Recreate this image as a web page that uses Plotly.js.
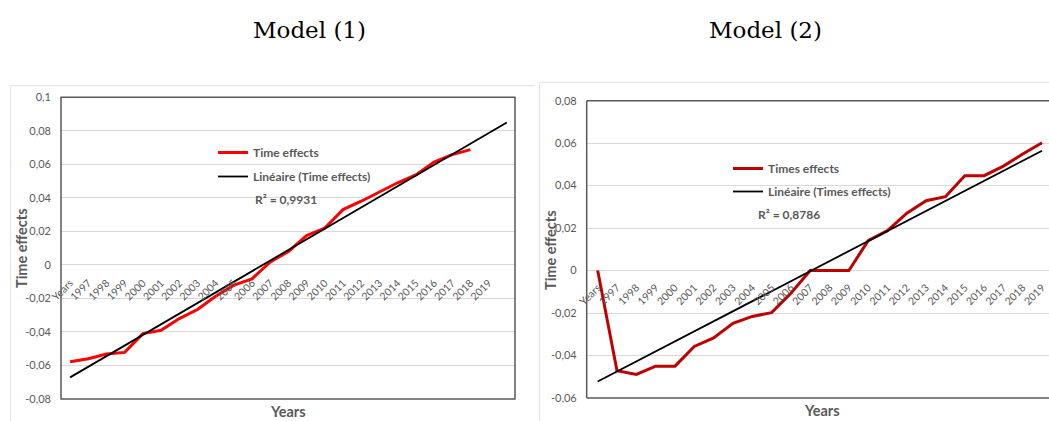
<!DOCTYPE html>
<html>
<head>
<meta charset="utf-8">
<script src="https://cdn.plot.ly/plotly-3.0.1.min.js"></script>
<style>html,body{margin:0;padding:0;background:#fff;}#chart{width:1049px;height:421px;}</style>
</head>
<body>
<div id="chart"></div>
<script>
// ---------- data ----------
var categories = ["Years","1997","1998","1999","2000","2001","2002","2003","2004","2005","2006","2007","2008","2009","2010","2011","2012","2013","2014","2015","2016","2017","2018","2019"];
var model1Effects = [-0.0578,-0.0560,-0.0532,-0.0522,-0.0410,-0.0390,-0.0320,-0.0266,-0.0187,-0.0121,-0.0083,0.0018,0.0080,0.0175,0.0220,0.0330,0.0380,0.0437,0.0490,0.0537,0.0614,0.0658,0.0688];
var model2Effects = [0.0000,-0.0472,-0.0489,-0.0450,-0.0450,-0.0357,-0.0317,-0.0248,-0.0216,-0.0198,-0.0107,0.0000,0.0000,0.0000,0.0141,0.0188,0.0270,0.0329,0.0348,0.0447,0.0447,0.0492,0.0549,0.0602];
var trend1X = [0, 24];
var trend1Y = [-0.0671, 0.0850];
var trend2X = [0, 23];
var trend2Y = [-0.0522, 0.0564];
var y1TickVals = [0.1,0.08,0.06,0.04,0.02,0,-0.02,-0.04,-0.06,-0.08];
var y1TickText = ["0,1","0,08","0,06","0,04","0,02","0","-0,02","-0,04","-0,06","-0,08"];
var y2TickVals = [0.08,0.06,0.04,0.02,0,-0.02,-0.04,-0.06];
var y2TickText = ["0,08","0,06","0,04","0,02","0","-0,02","-0,04","-0,06"];
var r2Model1 = "R² = 0,9931";
var r2Model2 = "R² = 0,8786";

// ---------- layout helpers ----------
var W = 1049, H = 421;
function px(x){ return x / W; }
function py(y){ return 1 - y / H; }
var catIdx = categories.map(function(c,i){ return i; });

var sans = "Lato, 'Liberation Sans', sans-serif";
var tickFont = {family: sans, size: 10.5, color: "#595959"};
var yTickFont = {family: sans, size: 11, color: "#595959"};
var gridCol = "#D9D9D9";

var traces = [
  {x: catIdx.slice(0, model1Effects.length), y: model1Effects, xaxis: "x", yaxis: "y", mode: "lines",
   name: "Time effects", legend: "legend", legendgroup: "a",
   line: {color: "#FF0000", width: 3}},
  {x: trend1X, y: trend1Y, xaxis: "x", yaxis: "y", mode: "lines",
   name: "Linéaire (Time effects)", legend: "legend", legendgroup: "b",
   line: {color: "#000000", width: 1.8}},
  {x: catIdx.slice(0, model2Effects.length), y: model2Effects, xaxis: "x2", yaxis: "y2", mode: "lines",
   name: "Times effects", legend: "legend2", legendgroup: "c",
   line: {color: "#C00000", width: 3}},
  {x: trend2X, y: trend2Y, xaxis: "x2", yaxis: "y2", mode: "lines",
   name: "Linéaire (Times effects)", legend: "legend2", legendgroup: "d",
   line: {color: "#000000", width: 1.8}}
];

var d1x = [px(61), px(515)], d1y = [py(399), py(97.3)];
var d2x = [px(586.7), 1], d2y = [py(398), py(100.7)];
var zero1 = d1y[0] + (0.08/0.18)*(d1y[1]-d1y[0]);
var zero2 = d2y[0] + (0.06/0.14)*(d2y[1]-d2y[0]);

var legendFont = {family: sans, size: 12, color: "#595959", weight: "bold"};

function ann(text, x, y, font, extra){
  var a = {text: text, xref: "paper", yref: "paper", x: px(x), y: py(y), showarrow: false,
           xanchor: "center", yanchor: "middle", font: font};
  if (extra) for (var k in extra) a[k] = extra[k];
  return a;
}
var titleFont = {family: "'DejaVu Serif', serif", size: 23, color: "#000"};
var axTitleFont = {family: sans, size: 14.5, color: "#595959", weight: "bold"};
var r2Font = {family: sans, size: 12, color: "#595959", weight: "bold"};

var layout = {
  width: W, height: H,
  margin: {l: 0, r: 0, t: 0, b: 0},
  paper_bgcolor: "#fff", plot_bgcolor: "#fff",
  showlegend: true,
  xaxis: {domain: d1x, range: [-0.5, 24.45], anchor: "free", position: zero1,
          tickmode: "array", tickvals: catIdx, ticktext: categories, tickangle: -45,
          tickfont: tickFont, showgrid: false, zeroline: false, showline: false, ticks: "",
          ticklabelstandoff: 9, ticklabeloverflow: "allow", fixedrange: true},
  yaxis: {domain: d1y, range: [-0.08, 0.1], anchor: "x",
          tickmode: "array", tickvals: y1TickVals, ticktext: y1TickText, tickfont: yTickFont,
          showgrid: true, gridcolor: gridCol, gridwidth: 1, zeroline: false, showline: false, ticks: "",
          ticklabelstandoff: 9, fixedrange: true},
  xaxis2: {domain: d2x, range: [-0.569, 23.36], anchor: "free", position: zero2,
          tickmode: "array", tickvals: catIdx, ticktext: categories, tickangle: -45,
          tickfont: tickFont, showgrid: false, zeroline: false, showline: false, ticks: "",
          ticklabelstandoff: 8, ticklabeloverflow: "allow", fixedrange: true},
  yaxis2: {domain: d2y, range: [-0.06, 0.08], anchor: "x2",
          tickmode: "array", tickvals: y2TickVals, ticktext: y2TickText, tickfont: yTickFont,
          showgrid: true, gridcolor: gridCol, gridwidth: 1, zeroline: false, showline: false, ticks: "",
          ticklabelstandoff: 9, fixedrange: true},
  legend: {x: px(213), y: py(138), xanchor: "left", yanchor: "top", bgcolor: "rgba(0,0,0,0)",
           font: legendFont, traceorder: "grouped", tracegroupgap: 5, itemwidth: 30},
  legend2: {x: px(728), y: py(154), xanchor: "left", yanchor: "top", bgcolor: "rgba(0,0,0,0)",
           font: legendFont, traceorder: "grouped", tracegroupgap: 4, itemwidth: 30},
  shapes: [
    // outer chart frames
    {type: "line", xref: "paper", yref: "paper", x0: px(10.7), x1: px(535), y0: py(85.7), y1: py(85.7), line: {color: "#E3E3E3", width: 1}},
    {type: "line", xref: "paper", yref: "paper", x0: px(10.7), x1: px(10.7), y0: py(85.7), y1: 0, line: {color: "#E3E3E3", width: 1}},
    {type: "line", xref: "paper", yref: "paper", x0: px(539.5), x1: 1, y0: py(82.3), y1: py(82.3), line: {color: "#E3E3E3", width: 1}},
    {type: "line", xref: "paper", yref: "paper", x0: px(539.5), x1: px(539.5), y0: py(82.3), y1: 0, line: {color: "#E3E3E3", width: 1}},
    // plot area boxes
    {type: "rect", xref: "x domain", yref: "y domain", x0: 0, x1: 1, y0: 0, y1: 1, line: {color: "#595959", width: 1.5}, layer: "above"},
    {type: "line", xref: "x2 domain", yref: "y2 domain", x0: 0, x1: 0, y0: 0, y1: 1, line: {color: "#595959", width: 1.5}, layer: "above"},
    {type: "line", xref: "x2 domain", yref: "y2 domain", x0: 0, x1: 1, y0: 1, y1: 1, line: {color: "#595959", width: 1.5}, layer: "above"},
    {type: "line", xref: "x2 domain", yref: "y2 domain", x0: 0, x1: 1, y0: 0, y1: 0, line: {color: "#595959", width: 1.5}, layer: "above"}
  ],
  annotations: [
    ann("Model (1)", 310, 30, titleFont),
    ann("Model (2)", 765, 30, titleFont),
    ann("Time effects", 22, 248, axTitleFont, {textangle: -90}),
    ann("Time effects", 550, 250, axTitleFont, {textangle: -90}),
    ann("Years", 288, 411, axTitleFont),
    ann("Years", 822, 410, axTitleFont),
    ann(r2Model1, 253, 199, r2Font, {xanchor: "left"}),
    ann(r2Model2, 756, 214, r2Font, {xanchor: "left"})
  ]
};

Plotly.newPlot("chart", traces, layout, {displayModeBar: false, staticPlot: true});
</script>
</body>
</html>
